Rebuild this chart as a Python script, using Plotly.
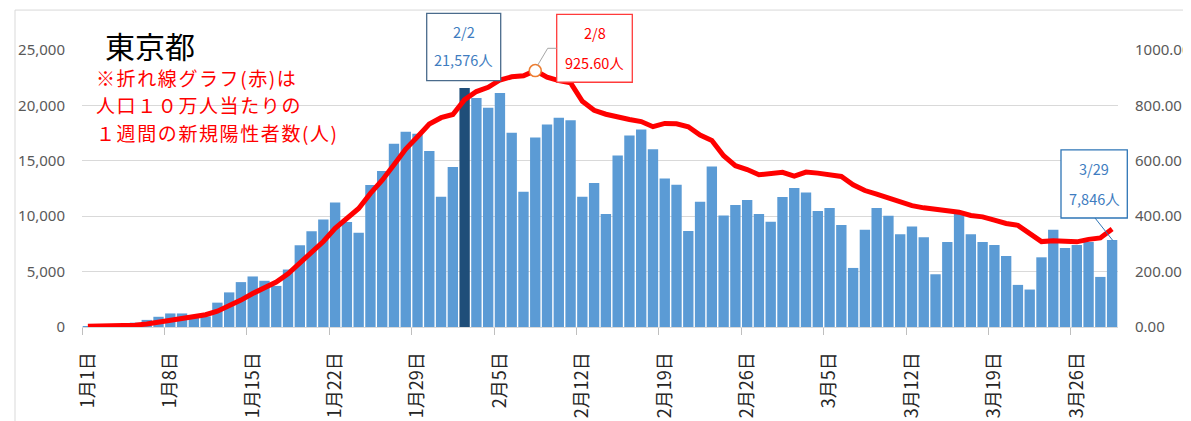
import plotly.graph_objects as go
import pandas as pd

# ---------------- data ----------------
dates = [f"{d.month}月{d.day}日" for d in pd.date_range("2022-01-01", "2022-03-29")]

cases = [
    79, 84, 103, 151, 390, 641, 922,
    1224, 1223, 871, 962, 2198, 3124, 4051,
    4561, 4172, 3709, 5185, 7377, 8638, 9699,
    11227, 9468, 8503, 12813, 14086, 16538, 17631,
    17433, 15895, 11751, 14445, 21576, 20679, 19798,
    21121, 17526, 12214, 17113, 18287, 18891, 18660,
    11760, 12990, 10200, 15480, 17280, 17820, 16050,
    13400, 12840, 8670, 11310, 14490, 10070, 11010,
    11460, 10200, 9500, 11730, 12540, 12140, 10470,
    10740, 9200, 5330, 8780, 10740, 10050, 8360,
    9080, 8090, 4760, 7670, 10230, 8360, 7670,
    7400, 6410, 3800, 3380, 6290, 8780, 7130,
    7400, 7670, 4520, 7846,
]

per100k = [
    3.02, 3.35, 3.77, 4.52, 6.76, 10.86, 16.87,
    25.02, 33.13, 38.60, 44.37, 57.24, 74.92, 97.19,
    120.95, 141.94, 162.14, 192.20, 229.07, 268.32, 308.53,
    355.98, 393.68, 427.81, 482.11, 529.87, 586.11, 642.57,
    686.75, 732.50, 755.63, 767.25, 820.56, 850.04, 865.47,
    891.72, 903.33, 906.63, 925.60, 902.21, 889.48, 881.38,
    814.74, 782.45, 768.12, 756.49, 749.32, 741.70, 723.12,
    734.80, 733.73, 722.83, 693.15, 673.29, 618.12, 582.24,
    568.43, 549.64, 555.54, 558.53, 544.65, 559.39, 555.54,
    550.42, 543.30, 513.62, 492.62, 479.80, 464.92, 449.91,
    438.09, 430.19, 426.13, 418.23, 414.59, 402.56, 397.65,
    385.69, 373.73, 366.90, 336.36, 308.31, 311.30, 307.46,
    307.46, 316.43, 321.55, 353.34,
]

tick_labels = ["1月1日", "1月8日", "1月15日", "1月22日", "1月29日", "2月5日",
               "2月12日", "2月19日", "2月26日", "3月5日", "3月12日", "3月19日", "3月26日"]

max_bar_date = "2月2日"
max_line_date = "2月8日"
last_date = "3月29日"

# ---------------- geometry helpers ----------------
# page body has an 8px margin: figure origin sits at (8, 8) in the window
OFF = 8
W, H = 1191 - OFF, 421 - OFF
PLOT_L, PLOT_R, PLOT_T, PLOT_B = 82, 1118, 50, 327.5   # window pixels
ML = PLOT_L - OFF
MT = PLOT_T - OFF
MR = W - (PLOT_R - OFF)
MB = H - (PLOT_B - OFF)
PW, PH = W - ML - MR, H - MT - MB


def pxx(x):
    return (x - PLOT_L) / PW


def pxy(y):
    return (PLOT_B - y) / PH


idx = list(range(len(dates)))
i_bar = dates.index(max_bar_date)
i_line = dates.index(max_line_date)
i_last = dates.index(last_date)

BAR = "#5B9BD5"
BAR_DARK = "#1F4E79"
bar_colors = [BAR_DARK if i == i_bar else BAR for i in idx]

fig = go.Figure()
fig.add_trace(go.Bar(
    x=idx, y=cases, marker=dict(color=bar_colors, line=dict(width=0)),
    xaxis="x", yaxis="y", showlegend=False, hoverinfo="x+y",
))
fig.add_trace(go.Scatter(
    x=idx, y=per100k, mode="lines", line=dict(color="#FF0000", width=5),
    xaxis="x2", yaxis="y2", showlegend=False,
))
fig.add_trace(go.Scatter(
    x=[idx[i_line]], y=[per100k[i_line]], mode="markers",
    marker=dict(symbol="circle", size=12, color="white",
                line=dict(color="#ED7D31", width=1.5)),
    xaxis="x2", yaxis="y2", showlegend=False,
))

GRID = "#D9D9D9"
TICKC = "#595959"
num_font = dict(family="Noto Sans, sans-serif", size=15, color=TICKC)
jp = "Noto Sans CJK JP, sans-serif"

rng = [-0.5, len(dates) - 0.5]
fig.update_layout(
    width=W, height=H,
    margin=dict(l=ML, r=MR, t=MT, b=MB, autoexpand=False),
    paper_bgcolor="white", plot_bgcolor="white",
    bargap=0.12,
    xaxis=dict(
        range=rng, tickmode="array", automargin=False,
        tickvals=[dates.index(t) for t in tick_labels], ticktext=tick_labels,
        tickangle=-90, tickfont=dict(family=jp, size=18, color="#262626"),
        showgrid=False, zeroline=False, showline=True, linecolor=GRID,
        ticks="", ticklabelstandoff=17,
    ),
    xaxis2=dict(
        range=rng, overlaying="x", side="bottom", anchor="y", automargin=False,
        tickmode="array",
        tickvals=[dates.index(t) - 0.5 for t in tick_labels],
        ticks="outside", ticklen=7, tickcolor="#BFBFBF", tickwidth=1,
        showticklabels=False, showgrid=False, zeroline=False, showline=False,
    ),
    yaxis=dict(
        range=[0, 25000], dtick=5000, tickformat=",", tickfont=num_font,
        showgrid=True, gridcolor=GRID, gridwidth=1, zeroline=False,
        showline=False, ticks="", ticklabelstandoff=16, automargin=False,
    ),
    yaxis2=dict(
        range=[0, 1000], dtick=200, tickformat=".2f", tickfont=num_font,
        overlaying="y", side="right", anchor="x2", automargin=False,
        showgrid=False, zeroline=False, showline=False, ticks="",
        ticklabelstandoff=16,
    ),
)

shapes = []
# outer chart frame
shapes.append(dict(type="rect", xref="paper", yref="paper",
                   x0=pxx(15), y0=pxy(10), x1=pxx(1200), y1=pxy(440),
                   line=dict(color=GRID, width=1), layer="below"))


def box(x0, y0, x1, y1, color):
    shapes.append(dict(type="rect", xref="paper", yref="paper",
                       x0=pxx(x0), y0=pxy(y0), x1=pxx(x1), y1=pxy(y1),
                       line=dict(color=color, width=1.3), fillcolor="white",
                       layer="above"))


box(426.7, 13.3, 500.7, 80.7, "#4A6B8C")
box(556.7, 14.3, 632.3, 82.3, "#FF3B3B")
box(1061, 150, 1127.3, 218.3, "#2E75B6")

# leader lines
shapes.append(dict(type="path", xref="paper", yref="paper",
                   path=f"M {pxx(556.7)},{pxy(48.3)} L {pxx(547.7)},{pxy(48.3)} L {pxx(537.5)},{pxy(65.5)}",
                   line=dict(color="#A6A6A6", width=1), layer="above"))
shapes.append(dict(type="line", xref="paper", yref="paper",
                   x0=pxx(1095), y0=pxy(218.3), x1=pxx(1112.7), y1=pxy(240.7),
                   line=dict(color="#2E75B6", width=1), layer="above"))

fig.update_layout(shapes=shapes)

ann = []


def txt(x, y, s, size, color, xanchor="center", family=jp):
    ann.append(dict(xref="paper", yref="paper", x=pxx(x), y=pxy(y), text=s,
                    showarrow=False, xanchor=xanchor, yanchor="middle",
                    borderpad=0,
                    font=dict(family=family, size=size, color=color)))


BLUE_T = "#3E7CC0"
txt(463.7, 31.7, max_bar_date.replace("月", "/").replace("日", ""), 14.5, BLUE_T)
txt(463.7, 60, f"{cases[i_bar]:,}人", 14.5, BLUE_T)
txt(594.5, 32.7, max_line_date.replace("月", "/").replace("日", ""), 14.5, "#FF0000")
txt(594.5, 62.3, f"{per100k[i_line]:.2f}人", 14.5, "#FF0000")
txt(1094, 169, last_date.replace("月", "/").replace("日", ""), 14.5, BLUE_T)
txt(1094, 199, f"{cases[i_last]:,}人", 14.5, BLUE_T)

txt(150, 45, "東京都", 30, "#000000")
note_lines = ["※折れ線グラフ(赤)は", "人口１０万人当たりの", "１週間の新規陽性者数(人)"]
for k, line in enumerate(note_lines):
    txt(95, 77.5 + 27.5 * k, f'<span style="letter-spacing:1.6px">{line}</span>',
        19, "#FF0000", xanchor="left")

fig.update_layout(annotations=ann)

fig.write_html("out.html")
